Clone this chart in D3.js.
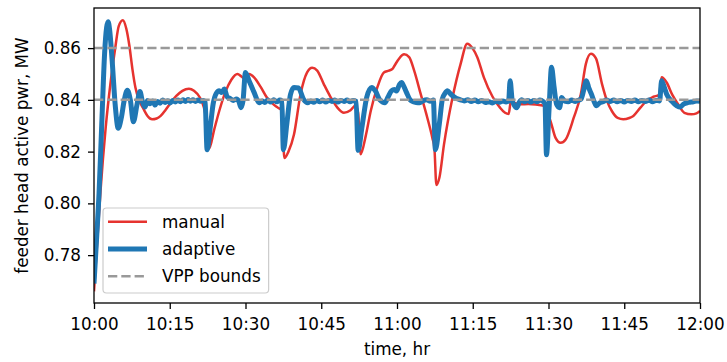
<!DOCTYPE html>
<html>
<head>
<meta charset="utf-8">
<script src="https://cdn.jsdelivr.net/npm/d3@7"></script>
<style>
  html, body { margin: 0; padding: 0; background: #fff; }
  svg { display: block; font-family: "DejaVu Sans", sans-serif; }
</style>
</head>
<body>
<svg id="chart" width="727" height="362"></svg>
<script>
// Feeder head active power, minutes after 10:00 vs MW
const manualMinutes = [0,0.6,1.3,2.3,3.3,4.2,4.9,5.7,6.4,7.0,7.6,8.2,9.0,9.8,10.6,11.5,12.4,13.2,14.2,15.2,16.3,17.5,18.8,19.8,21.0,21.7,22.1,22.8,23.8,24.8,26.0,27.2,28.4,29.2,29.8,30.7,31.7,33.0,34.2,35.2,36.4,37.2,37.7,38.5,39.6,40.9,42.2,43.2,44.2,45.5,46.9,48.2,49.5,50.8,51.8,52.3,52.8,53.8,54.8,56.1,57.4,58.4,59.1,59.5,60.4,61.4,62.4,63.4,64.7,66.0,67.0,67.4,67.8,68.4,69.3,71.0,72.6,73.9,75.0,75.9,77.2,78.9,80.4,81.4,82.1,82.6,83.3,84.5,86.0,87.5,89.1,90.4,91.4,92.4,93.4,95.0,96.4,97.4,98.4,99.4,100.6,101.6,102.6,103.7,104.8,106.0,106.8,108.2,109.6,110.8,111.9,112.4,113.4,114.5,115.6,116.9,118.3,119.3,120];
const manualValues = [0.766,0.784,0.805,0.829,0.847,0.860,0.8685,0.8708,0.8675,0.861,0.852,0.8448,0.8395,0.8365,0.8338,0.8325,0.8328,0.8338,0.8362,0.8389,0.8415,0.8435,0.8443,0.8435,0.8408,0.8375,0.834,0.8212,0.8285,0.8357,0.843,0.8478,0.85,0.849,0.8482,0.85,0.8487,0.845,0.841,0.8388,0.837,0.8358,0.8175,0.82,0.8266,0.8422,0.8506,0.8524,0.8513,0.8461,0.8409,0.837,0.835,0.836,0.8378,0.835,0.819,0.826,0.8357,0.8448,0.8506,0.8513,0.852,0.8532,0.8559,0.8576,0.8565,0.8513,0.8422,0.8331,0.8253,0.8215,0.8071,0.81,0.8227,0.8409,0.8539,0.8617,0.8598,0.8565,0.8487,0.8413,0.837,0.835,0.8345,0.84,0.8388,0.8383,0.8384,0.8382,0.8377,0.8318,0.8253,0.8234,0.8247,0.8331,0.8422,0.8539,0.8578,0.856,0.8461,0.8395,0.8355,0.833,0.8325,0.833,0.8338,0.837,0.84,0.8412,0.842,0.8487,0.8467,0.842,0.8385,0.835,0.8344,0.8348,0.8357];

const adaptiveMinutes = [0,0.5,1.0,1.6,2.1,2.5,2.8,3.1,3.6,4.2,4.8,5.4,6.0,6.6,7.2,7.8,8.5,9.1,9.6,10.1,10.6,11.1,11.6,12.1,12.6,13.1,13.6,14.1,14.6,15.1,15.6,16.1,16.6,17.1,17.6,18.1,18.6,19.1,19.6,20.1,20.6,21.1,21.6,22.0,22.4,23.0,23.6,24.2,24.8,25.3,25.8,26.4,27.0,27.6,28.2,28.7,29.1,29.5,30.0,30.7,31.7,32.7,33.3,33.8,34.4,35.0,35.6,36.2,36.8,37.2,37.5,38.2,38.9,39.6,40.5,41.5,42.3,42.9,43.5,44.1,44.7,45.3,45.9,46.5,47.1,47.7,48.3,48.9,49.5,50.1,50.7,51.3,51.9,52.3,53.1,54.0,55.0,55.7,56.6,57.6,58.2,58.9,59.5,59.9,60.5,60.9,61.4,61.9,62.6,63.2,63.8,64.5,65.2,65.9,66.6,67.2,67.6,68.4,69.0,69.5,70.0,70.5,71.0,71.8,72.6,73.3,74.0,74.7,75.4,76.1,76.8,77.5,78.2,78.9,79.6,80.3,81.0,81.6,82.1,82.4,82.8,83.2,83.7,84.2,84.7,85.3,85.9,86.5,87.1,87.7,88.3,88.9,89.3,89.6,90.1,90.6,91.1,91.6,92.2,92.6,93.2,93.9,94.6,95.3,96.0,96.5,97.0,97.5,98.0,98.5,99.0,99.5,100.1,100.8,101.5,102.2,102.9,103.6,104.3,105.0,105.7,106.4,107.1,107.8,108.5,109.2,109.9,110.6,111.3,112.0,112.4,112.9,113.4,114.4,115.4,116.1,116.7,117.7,118.7,119.4,120];
const adaptiveValues = [0.769,0.786,0.804,0.834,0.858,0.868,0.8702,0.867,0.855,0.838,0.829,0.833,0.84,0.8437,0.84,0.8315,0.838,0.8432,0.8392,0.8372,0.8398,0.8385,0.8396,0.838,0.8394,0.8387,0.8399,0.839,0.8397,0.8388,0.8398,0.8392,0.8399,0.8393,0.84,0.8394,0.8401,0.8395,0.84,0.8394,0.8399,0.8395,0.8398,0.839,0.8207,0.829,0.8385,0.8425,0.8435,0.8428,0.8442,0.8411,0.8405,0.8398,0.8403,0.8393,0.837,0.8395,0.8506,0.8474,0.8429,0.8389,0.8396,0.839,0.8399,0.8392,0.84,0.8393,0.8399,0.8396,0.8207,0.831,0.842,0.8448,0.8446,0.8402,0.8389,0.8396,0.8391,0.8398,0.8393,0.8399,0.8392,0.8398,0.8394,0.8399,0.8392,0.8398,0.8394,0.8399,0.8393,0.8398,0.8394,0.8205,0.83,0.841,0.8448,0.8435,0.84,0.8389,0.841,0.8435,0.844,0.8434,0.846,0.8467,0.845,0.8428,0.84,0.8393,0.839,0.8389,0.8397,0.84,0.8395,0.8399,0.8207,0.831,0.8405,0.8425,0.8435,0.8425,0.8416,0.8405,0.84,0.8396,0.84,0.8394,0.8399,0.8393,0.8398,0.839,0.8393,0.8388,0.8395,0.8391,0.8396,0.8392,0.8395,0.8474,0.84,0.838,0.837,0.839,0.84,0.8393,0.8398,0.8392,0.8398,0.8393,0.8399,0.8394,0.8385,0.8188,0.836,0.8526,0.845,0.8383,0.837,0.8409,0.8395,0.8393,0.8399,0.8394,0.8399,0.8405,0.844,0.8474,0.8445,0.8422,0.8395,0.8377,0.8388,0.8393,0.8399,0.8394,0.8399,0.8393,0.8398,0.8392,0.8398,0.8394,0.8399,0.8393,0.8398,0.8394,0.8399,0.8393,0.8398,0.8396,0.8474,0.845,0.8422,0.8395,0.8377,0.8372,0.8383,0.839,0.8393,0.8396,0.8395];

const boundValues = [0.84, 0.86];
const yTicks = [0.78, 0.80, 0.82, 0.84, 0.86];
const xTickLabels = ["10:00","10:15","10:30","10:45","11:00","11:15","11:30","11:45","12:00"];
const seriesNames = ["manual", "adaptive", "VPP bounds"];

const W = 727, H = 362;
const plot = { left: 94, right: 700, top: 8, bottom: 303 };
const FS = 16.8;
const colors = { manual: "#e6332f", adaptive: "#1f77b4", bounds: "#999999" };

const svg = d3.select("#chart");
const base = new Date(2000, 0, 1, 10, 0, 0);
const toDate = m => new Date(base.getTime() + m * 60000);

const x = d3.scaleTime()
  .domain([toDate(0), toDate(120)])
  .range([plot.left, plot.right]);
const y = d3.scaleLinear()
  .domain([0.7615, 0.8755])
  .range([plot.bottom, plot.top]);

const clipId = "plot-clip";
svg.append("defs").append("clipPath").attr("id", clipId)
  .append("rect")
  .attr("x", plot.left).attr("y", plot.top)
  .attr("width", plot.right - plot.left).attr("height", plot.bottom - plot.top);

const line = d3.line()
  .x(d => x(toDate(d[0])))
  .y(d => y(d[1]))
  .curve(d3.curveMonotoneX);

const manual = manualMinutes.map((m, i) => [m, manualValues[i]]);
const adaptive = adaptiveMinutes.map((m, i) => [m, adaptiveValues[i]]);

const g = svg.append("g").attr("clip-path", `url(#${clipId})`);

g.append("path").datum(manual)
  .attr("d", line)
  .attr("fill", "none")
  .attr("stroke", colors.manual)
  .attr("stroke-width", 2.5)
  .attr("stroke-linejoin", "round");

g.append("path").datum(adaptive)
  .attr("d", line)
  .attr("fill", "none")
  .attr("stroke", colors.adaptive)
  .attr("stroke-width", 5)
  .attr("stroke-linejoin", "round");

g.selectAll("line.bound").data(boundValues).enter().append("line")
  .attr("class", "bound")
  .attr("x1", plot.left).attr("x2", plot.right)
  .attr("y1", d => y(d)).attr("y2", d => y(d))
  .attr("stroke", colors.bounds)
  .attr("stroke-width", 2.5)
  .attr("stroke-dasharray", "9.3,4");

// axes
const xTicks = xTickLabels.map((_, i) => toDate(i * 15));
const xAxis = d3.axisBottom(x)
  .tickValues(xTicks)
  .tickFormat((d, i) => xTickLabels[i])
  .tickSize(6).tickPadding(9);
const yAxis = d3.axisLeft(y)
  .tickValues(yTicks)
  .tickFormat(d3.format(".2f"))
  .tickSize(6).tickPadding(7);

const gx = svg.append("g").attr("transform", `translate(0,${plot.bottom})`).call(xAxis);
const gy = svg.append("g").attr("transform", `translate(${plot.left},0)`).call(yAxis);
[gx, gy].forEach(a => {
  a.select(".domain").remove();
  a.selectAll(".tick line").attr("stroke", "#000").attr("stroke-width", 1.3);
  a.selectAll(".tick text")
    .attr("fill", "#000")
    .style("font-family", "DejaVu Sans")
    .style("font-size", FS + "px");
});

// frame
svg.append("rect")
  .attr("x", plot.left).attr("y", plot.top)
  .attr("width", plot.right - plot.left).attr("height", plot.bottom - plot.top)
  .attr("fill", "none").attr("stroke", "#000").attr("stroke-width", 1.3);

// axis titles
svg.append("text")
  .attr("x", (plot.left + plot.right) / 2).attr("y", 355)
  .attr("text-anchor", "middle")
  .style("font-size", FS + "px").attr("fill", "#000")
  .text("time, hr");
svg.append("text")
  .attr("transform", `translate(28,${(plot.top + plot.bottom) / 2}) rotate(-90)`)
  .attr("text-anchor", "middle")
  .style("font-size", FS + "px").attr("fill", "#000")
  .text("feeder head active pwr, MW");

// legend
const legend = svg.append("g");
const rowY = [221.7, 249, 276.3];
const handleX1 = 108, handleX2 = 147, textX = 162;
const box = legend.append("rect")
  .attr("x", 103).attr("y", 208)
  .attr("rx", 3.5).attr("ry", 3.5)
  .attr("height", 85)
  .attr("fill", "#fff").attr("fill-opacity", 0.8)
  .attr("stroke", "#cccccc").attr("stroke-width", 1.2);
const styles = [
  { color: colors.manual, width: 2.5, dash: null },
  { color: colors.adaptive, width: 5, dash: null },
  { color: colors.bounds, width: 2.5, dash: "9.3,4" }
];
let maxW = 0;
seriesNames.forEach((name, i) => {
  legend.append("line")
    .attr("x1", handleX1).attr("x2", handleX2)
    .attr("y1", rowY[i]).attr("y2", rowY[i])
    .attr("stroke", styles[i].color)
    .attr("stroke-width", styles[i].width)
    .attr("stroke-dasharray", styles[i].dash);
  const t = legend.append("text")
    .attr("x", textX).attr("y", rowY[i] + 6)
    .style("font-size", FS + "px").attr("fill", "#000")
    .text(name);
  maxW = Math.max(maxW, t.node().getComputedTextLength());
});
box.attr("width", textX + maxW + 8 - 103);
</script>
</body>
</html>
